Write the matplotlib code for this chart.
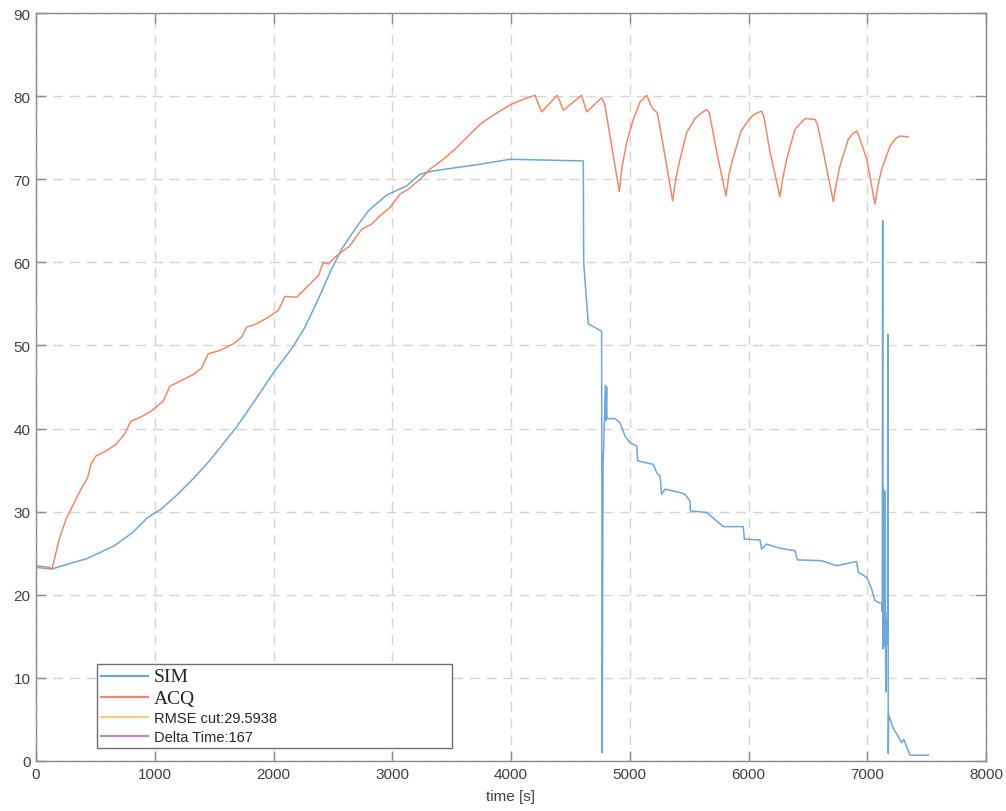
import matplotlib
matplotlib.use("Agg")
import matplotlib.pyplot as plt
from matplotlib.lines import Line2D

# ---------------- data ----------------
sim_t = [0, 132, 365, 421, 660, 814, 940, 1053, 1179, 1319, 1460, 1572, 1690,
         1830, 1999, 2167, 2265, 2378, 2476, 2574, 2687, 2799, 2953, 3122, 3234,
         3346, 3739, 3992, 4609, 4612, 4651, 4763, 4768, 4775, 4780, 4795, 4800,
         4805, 4808, 4876, 4918, 4960, 5002, 5059, 5067, 5198, 5226, 5255, 5269,
         5297, 5423, 5465, 5507, 5510, 5648, 5788, 5956, 5965, 6097, 6111, 6153,
         6265, 6392, 6411, 6616, 6743, 6911, 6925, 6995, 7037, 7065, 7122, 7126,
         7130, 7132, 7135, 7138, 7141, 7144, 7147, 7150, 7153, 7156, 7159, 7162,
         7166, 7170, 7174, 7177, 7180, 7186, 7219, 7247, 7289, 7308, 7360, 7514]
sim_v = [23.3, 23.1, 24.1, 24.3, 25.9, 27.5, 29.3, 30.3, 31.9, 33.9, 36.1, 38.1, 40.2,
         43.1, 46.7, 49.9, 52.2, 55.6, 58.8, 61.6, 64.0, 66.2, 68.1, 69.2, 70.6,
         71.0, 71.8, 72.4, 72.2, 60.0, 52.6, 51.7, 1.0, 36.0, 37.5, 45.2, 41.0,
         45.0, 41.2, 41.2, 40.7, 39.1, 38.3, 37.9, 36.1, 35.7, 34.7, 34.3, 32.1,
         32.7, 32.3, 32.1, 31.3, 30.1, 29.9, 28.2, 28.2, 26.7, 26.6, 25.5, 26.1,
         25.6, 25.3, 24.2, 24.1, 23.5, 24.0, 22.7, 22.1, 20.7, 19.3, 18.9, 18.0,
         65.0, 13.5, 33.0, 14.5, 17.5, 13.8, 32.5, 14.2, 17.8, 8.3, 16.5, 14.0,
         17.0, 15.0, 51.3, 0.9, 5.5, 5.3, 3.9, 3.3, 2.2, 2.6, 0.7, 0.7]

acq_t = [0, 0, 112, 135, 196, 253, 337, 379, 435, 463, 505, 589, 674, 744, 800,
         870, 960, 1072, 1128, 1213, 1325, 1395, 1451, 1549, 1662, 1732, 1774,
         1858, 1956, 2040, 2097, 2195, 2279, 2378, 2420, 2462, 2532, 2644, 2743,
         2827, 2897, 2981, 3065, 3135, 3234, 3318, 3430, 3528, 3640, 3739, 3830,
         3907, 4000, 4100, 4202,
         4258, 4390, 4441, 4595, 4637, 4764, 4790, 4806, 4862, 4912,
         4935, 4974, 5030, 5087, 5143, 5175, 5198, 5232, 5270, 5311, 5361,
         5390, 5423, 5479, 5549, 5606, 5648, 5670, 5732, 5811,
         5835, 5867, 5938, 6008, 6060, 6111, 6130, 6181, 6265,
         6290, 6321, 6391, 6476, 6560, 6580, 6626, 6714,
         6740, 6770, 6840, 6880, 6911, 6930, 6996, 7065,
         7090, 7121, 7192, 7240, 7276, 7343]
acq_v = [0, 23.5, 23.3, 23.1, 26.7, 29.1, 31.5, 32.7, 34.1, 35.7, 36.7, 37.3, 38.1,
         39.3, 40.9, 41.3, 42.0, 43.3, 45.1, 45.7, 46.5, 47.3, 49.0, 49.4, 50.2,
         51.0, 52.2, 52.6, 53.4, 54.2, 55.9, 55.8, 57.0, 58.4, 60.0, 59.8, 60.8,
         62.0, 64.0, 64.6, 65.6, 66.6, 68.2, 68.8, 70.0, 71.2, 72.4, 73.6, 75.2, 76.6, 77.5,
         78.2, 79.0, 79.6, 80.1,
         78.1, 80.1, 78.3, 80.1, 78.1, 79.8, 79.0, 77.6, 72.8, 68.5,
         71.5, 74.4, 77.2, 79.3, 80.1, 79.0, 78.4, 78.0, 75.0, 71.6, 67.4,
         70.2, 72.4, 75.6, 77.3, 78.0, 78.4, 78.0, 73.3, 68.0,
         70.5, 72.4, 75.8, 77.3, 77.9, 78.2, 77.5, 73.3, 67.9,
         70.2, 72.4, 76.0, 77.3, 77.2, 76.6, 73.6, 67.3,
         69.5, 71.6, 74.8, 75.5, 75.8, 75.2, 72.4, 67.0,
         69.2, 71.2, 74.0, 74.9, 75.2, 75.1]

legend_labels = ["SIM", "ACQ", "RMSE cut:29.5938", "Delta Time:167"]
x_ticks = [0, 1000, 2000, 3000, 4000, 5000, 6000, 7000, 8000]
y_ticks = [0, 10, 20, 30, 40, 50, 60, 70, 80, 90]

c_sim = "#6fa6d9"
c_acq = "#eb8a6a"
c_rmse = "#f5cf80"
c_dt = "#b48cc4"
# --------------------------------------

fig = plt.figure(figsize=(10.06, 8.12), dpi=100)
ax = fig.add_axes([36 / 1006, 50 / 812, 950 / 1006, 748 / 812])

ax.plot(sim_t, sim_v, color=c_sim, lw=1.1)
ax.plot(acq_t, acq_v, color=c_acq, lw=1.1)

ax.set_xlim(0, 8000)
ax.set_ylim(0, 90)
ax.set_xticks(x_ticks)
ax.set_yticks(y_ticks)
ax.grid(True, color="#d4d4d4", linestyle=(0, (7, 5)), lw=1.0)
ax.set_axisbelow(True)
for s in ax.spines.values():
    s.set_color("#8a8a8a")
    s.set_linewidth(1.0)
ax.tick_params(direction="in", length=7, width=1.0, color="#8a8a8a",
               top=True, right=True, labelsize=11, labelcolor="#404040", pad=4)
for lab in ax.get_xticklabels() + ax.get_yticklabels():
    lab.set_fontfamily("Liberation Sans")
ax.set_xlabel("time [s]", fontsize=11, color="#404040", family="Liberation Sans",
              labelpad=6)

handles = [Line2D([], [], color=c_sim, lw=1.6),
           Line2D([], [], color=c_acq, lw=1.6),
           Line2D([], [], color=c_rmse, lw=1.6),
           Line2D([], [], color=c_dt, lw=1.6)]
leg = ax.legend(handles, legend_labels, loc="lower left",
                bbox_to_anchor=(0.0639, 0.017, 0.374, 0.111), mode="expand",
                handlelength=3.2, handletextpad=0.4,
                labelspacing=0.32, borderpad=0.3, borderaxespad=0.0,
                fancybox=False, framealpha=1.0, edgecolor="#707070",
                prop={"family": "Liberation Sans", "size": 10.5})
leg.get_frame().set_linewidth(1.0)
texts = leg.get_texts()
for t in texts[:2]:
    t.set_fontfamily("Liberation Serif")
    t.set_fontsize(14)
for t in texts:
    t.set_color("#262626")

fig.savefig("out.png", dpi=100)
